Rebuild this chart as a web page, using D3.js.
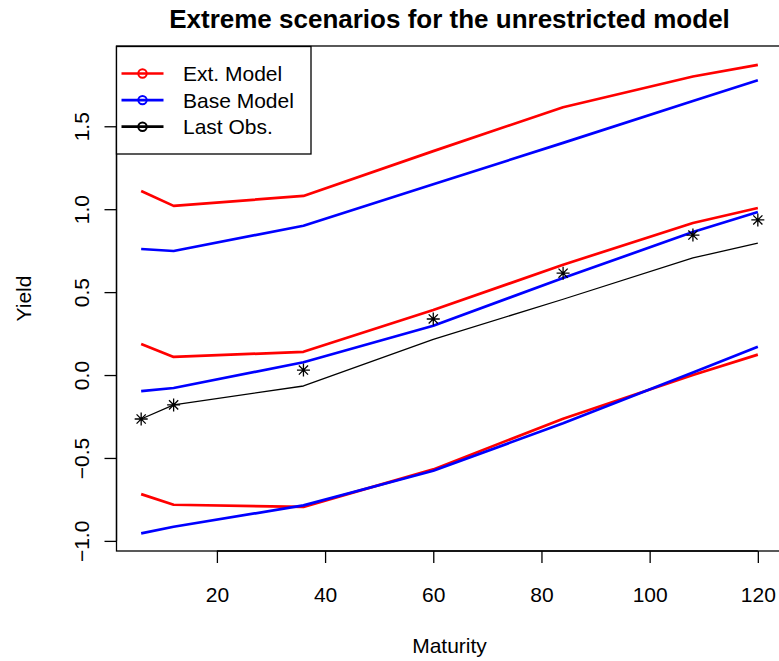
<!DOCTYPE html>
<html>
<head>
<meta charset="utf-8">
<script src="https://cdn.jsdelivr.net/npm/d3@7"></script>
<style>
  html, body { margin: 0; padding: 0; background: #fff; }
  svg text { font-family: "Liberation Sans", Arial, Helvetica, sans-serif; fill: #000; }
</style>
</head>
<body>
<svg id="chart" width="779" height="661"></svg>
<script>
// ---- Data ----
const maturities = [6, 12, 36, 60, 84, 108, 120];
const extHigh  = [1.11, 1.02, 1.08, 1.35, 1.615, 1.80, 1.87];
const baseHigh = [0.76, 0.748, 0.90, 1.15, 1.40, 1.652, 1.777];
const extMid   = [0.187, 0.109, 0.14, 0.392, 0.665, 0.917, 1.007];
const baseMid  = [-0.097, -0.078, 0.077, 0.297, 0.585, 0.862, 0.983];
const extLow   = [-0.718, -0.782, -0.795, -0.569, -0.263, 0.0, 0.123];
const baseLow  = [-0.955, -0.915, -0.786, -0.577, -0.291, 0.015, 0.171];
const lastObsLine   = [-0.265, -0.18, -0.066, 0.215, 0.457, 0.706, 0.796];
const lastObsPoints = [-0.265, -0.18, 0.03, 0.338, 0.614, 0.844, 0.935];
const xTicks = [20, 40, 60, 80, 100, 120];
const yTicks = [-1.0, -0.5, 0.0, 0.5, 1.0, 1.5];
const legendLabels = ["Ext. Model", "Base Model", "Last Obs."];
const legendColors = ["#ff0000", "#0000ff", "#000000"];

const svg = d3.select("#chart");
const pL = 116.5, pR = 782.5, pT = 46, pB = 551;

const x = d3.scaleLinear().domain([1.44, 124.56]).range([pL, pR]);
const y = d3.scaleLinear().domain([-1.061, 1.984]).range([pB, pT]);

// Box
svg.append("rect").attr("x", pL).attr("y", pT)
  .attr("width", pR - pL).attr("height", pB - pT)
  .attr("fill", "none").attr("stroke", "#000").attr("stroke-width", 1.3);

// X axis
const xAxis = d3.axisBottom(x).tickValues(xTicks).tickSize(12).tickFormat(d3.format("d"));
const gx = svg.append("g").attr("transform", `translate(0,${pB})`).call(xAxis);
gx.select(".domain").attr("d", `M${x(20)},0H${x(120)}`).attr("stroke-width", 1.3);
gx.selectAll(".tick line").attr("stroke-width", 1.3);
gx.selectAll(".tick text").attr("font-size", 21).attr("y", 0).attr("dy", null)
  .attr("transform", "translate(0,51)");

// Y axis
const yAxis = d3.axisLeft(y).tickValues(yTicks).tickSize(12).tickFormat(d3.format(".1f"));
const gy = svg.append("g").attr("transform", `translate(${pL},0)`).call(yAxis);
gy.select(".domain").attr("d", `M0,${y(-1)}V${y(1.5)}`).attr("stroke-width", 1.3);
gy.selectAll(".tick line").attr("stroke-width", 1.3);
gy.selectAll(".tick text").attr("font-size", 21).attr("x", 0).attr("dy", null)
  .attr("text-anchor", "middle")
  .attr("transform", "translate(-28,0) rotate(-90)")
  .text(d => d3.format(".1f")(d).replace("-", "\u2212"));

// Lines
const line = d3.line().x((d, i) => x(maturities[i])).y(d => y(d));
const addLine = (data, color, w) => svg.append("path").datum(data)
  .attr("d", line).attr("fill", "none").attr("stroke", color)
  .attr("stroke-width", w).attr("stroke-linejoin", "round");

addLine(extHigh, "#ff0000", 2.7);
addLine(baseHigh, "#0000ff", 2.7);
addLine(extMid, "#ff0000", 2.7);
addLine(baseMid, "#0000ff", 2.7);
addLine(lastObsLine, "#000000", 1.3);
addLine(extLow, "#ff0000", 2.7);
addLine(baseLow, "#0000ff", 2.7);

// Asterisk points
const r = 4.6, rp = r * Math.SQRT2;
const star = `M${-r},${-r}L${r},${r}M${-r},${r}L${r},${-r}M${-rp},0L${rp},0M0,${-rp}L0,${rp}`;
svg.append("g").selectAll("path").data(lastObsPoints).join("path")
  .attr("transform", (d, i) => `translate(${x(maturities[i])},${y(d)})`)
  .attr("d", star).attr("stroke", "#000").attr("stroke-width", 1.3).attr("fill", "none");

// Title & axis labels
svg.append("text").attr("x", (pL + pR) / 2).attr("y", 28)
  .attr("text-anchor", "middle").attr("font-size", 26).attr("font-weight", "bold")
  .text("Extreme scenarios for the unrestricted model");
svg.append("text").attr("x", (pL + pR) / 2).attr("y", 653)
  .attr("text-anchor", "middle").attr("font-size", 21).text("Maturity");
svg.append("text").attr("transform", `translate(31,${(pT + pB) / 2}) rotate(-90)`)
  .attr("text-anchor", "middle").attr("font-size", 21).text("Yield");

// Legend
const lg = svg.append("g");
lg.append("rect").attr("x", 116.5).attr("y", 46.5).attr("width", 194.5).attr("height", 107.5)
  .attr("fill", "#fff").attr("stroke", "#000").attr("stroke-width", 1.3);
legendLabels.forEach((lab, i) => {
  const yy = 73.5 + i * 26.6;
  lg.append("line").attr("x1", 121.5).attr("x2", 163.5).attr("y1", yy).attr("y2", yy)
    .attr("stroke", legendColors[i]).attr("stroke-width", 2.7);
  lg.append("circle").attr("cx", 142.5).attr("cy", yy).attr("r", 4.2)
    .attr("fill", "none").attr("stroke", legendColors[i]).attr("stroke-width", 2);
  lg.append("text").attr("x", 183).attr("y", yy + 7.5).attr("font-size", 21).text(lab);
});
</script>
</body>
</html>
